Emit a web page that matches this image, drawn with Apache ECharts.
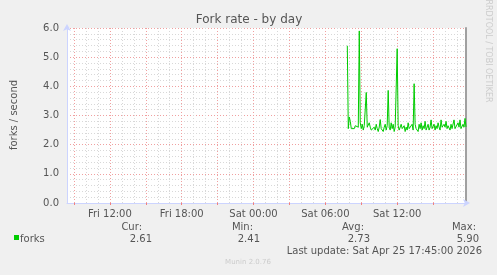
<!DOCTYPE html>
<html>
<head>
<meta charset="utf-8">
<script src="https://cdn.jsdelivr.net/npm/echarts@6/dist/echarts.min.js"></script>
<style>
html,body{margin:0;padding:0;background:#F0F0F0;}
#c{width:497px;height:275px;}
</style>
</head>
<body>
<div id="c"></div>
<script>
// ---- data ----
var titleText = 'Fork rate - by day';
var yAxisName = 'forks / second';
var seriesName = 'forks';
var startHour = 8, startMinute = 25;   // Fri 08:25 (left edge)
var stepMinutes = 5;
var slotCount = 401;                   // Fri 08:25 .. Sat 17:45
var firstDataSlot = 281;               // Sat 07:50
var forkValues = [
  5.39,2.55,2.95,2.80,2.55,2.50,2.60,2.55,2.65,2.70,2.65,2.60,5.90,2.75,2.55,2.70,2.50,2.65,2.60,3.79,
  2.60,2.55,2.75,2.60,2.50,2.45,2.55,2.60,2.50,2.70,2.55,2.45,2.60,2.86,2.55,2.50,2.45,2.60,2.70,2.50,
  2.65,3.86,2.60,2.50,2.75,2.55,2.70,2.45,2.60,2.55,5.29,2.65,2.50,2.60,2.70,2.55,2.50,2.65,2.45,2.60,
  2.50,2.75,2.55,2.50,2.60,2.70,2.50,4.09,2.70,2.55,2.60,2.45,2.70,2.55,2.75,2.50,2.65,2.55,2.80,2.50,
  2.60,2.70,2.50,2.60,2.85,2.55,2.60,2.70,2.50,2.65,2.55,2.75,2.60,2.50,2.85,2.60,2.55,2.70,2.60,2.80,
  2.55,2.65,2.60,2.50,2.70,2.55,2.60,2.85,2.55,2.60,2.50,2.75,2.60,2.85,2.55,2.60,2.70,2.60,2.90,2.61
];
var statHeaders = ['Cur:', 'Min:', 'Avg:', 'Max:'];
var statValues = ['2.61', '2.41', '2.73', '5.90'];
var lastUpdate = 'Last update: Sat Apr 25 17:45:00 2026';
var footer = 'Munin 2.0.76';
var sideText = 'RRDTOOL / TOBI OETIKER';

// ---- build ----
var days = ['Fri', 'Sat'];
var categories = [];
var hours = [], minutes = [];
for (var i = 0; i < slotCount; i++) {
  var t = startHour * 60 + startMinute + i * stepMinutes;
  var d = Math.floor(t / 1440), m = t % 1440;
  var hh = Math.floor(m / 60), mm = m % 60;
  hours.push(hh); minutes.push(mm);
  categories.push(days[d] + ' ' + (hh < 10 ? '0' : '') + hh + ':' + (mm < 10 ? '0' : '') + mm);
}
var seriesData = [];
for (var j = 0; j < slotCount; j++) {
  var k = j - firstDataSlot;
  seriesData.push(k >= 0 && k < forkValues.length ? forkValues[k] : null);
}
function isHour(idx) { return minutes[idx] === 0; }
function isMajor(idx) { return minutes[idx] === 0 && hours[idx] % 3 === 0; }
function isLabel(idx) { return minutes[idx] === 0 && hours[idx] % 6 === 0; }

var FONT = 'DejaVu Sans';
var TXT = '#555555';
var chart = echarts.init(document.getElementById('c'), null, {renderer: 'canvas'});

var gridLeft = 67, gridRight = 31, gridTop = 28, gridBottom = 72;
var statRight = [142, 253, 364, 476];
var valRight = [152, 260, 370, 479];
var graphics = [
  {type: 'rect', shape: {x: gridLeft, y: gridTop, width: 497 - gridLeft - gridRight, height: 275 - gridTop - gridBottom}, style: {fill: '#FFFFFF'}, z: -10, silent: true},
  {type: 'text', x: 249, y: 20, style: {text: titleText, font: '12px "' + FONT + '"', fill: TXT, textAlign: 'center', textVerticalAlign: 'middle'}},
  {type: 'text', x: 14, y: 115, rotation: Math.PI / 2, style: {text: yAxisName, font: '10px "' + FONT + '"', fill: TXT, textAlign: 'center', textVerticalAlign: 'middle'}},
  {type: 'text', x: 488, y: 51, rotation: -Math.PI / 2, style: {text: sideText, font: '8px "' + FONT + '"', fill: '#CCCCCC', textAlign: 'center', textVerticalAlign: 'middle'}},
  {type: 'rect', shape: {x: 14, y: 235, width: 5, height: 5}, style: {fill: '#00CC00'}},
  {type: 'text', x: 20, y: 239, style: {text: seriesName, font: '10px "' + FONT + '"', fill: TXT, textAlign: 'left', textVerticalAlign: 'middle'}},
  {type: 'text', x: 482, y: 251, style: {text: lastUpdate, font: '10px "' + FONT + '"', fill: TXT, textAlign: 'right', textVerticalAlign: 'middle'}},
  {type: 'text', x: 248, y: 262, style: {text: footer, font: '7px "' + FONT + '"', fill: '#CCCCCC', textAlign: 'center', textVerticalAlign: 'middle'}}
];
for (var s = 0; s < statHeaders.length; s++) {
  graphics.push({type: 'text', x: statRight[s], y: 227, style: {text: statHeaders[s], font: '10px "' + FONT + '"', fill: TXT, textAlign: 'right', textVerticalAlign: 'middle'}});
  graphics.push({type: 'text', x: valRight[s], y: 239, style: {text: statValues[s], font: '10px "' + FONT + '"', fill: TXT, textAlign: 'right', textVerticalAlign: 'middle'}});
}

var option = {
  animation: false,
  backgroundColor: '#F0F0F0',
  grid: {left: gridLeft, right: gridRight, top: gridTop, bottom: gridBottom, containLabel: false},
  xAxis: [
    {
      type: 'category', data: categories, boundaryGap: false, position: 'bottom',
      axisLine: {show: true, lineStyle: {color: '#CCD4FF', width: 1}, symbol: ['none', 'arrow'], symbolSize: [6, 7], symbolOffset: [0, 4]},
      axisTick: {show: false},
      axisLabel: {show: true, interval: function (idx) { return isLabel(idx); }, margin: 6, color: TXT, fontFamily: FONT, fontSize: 10},
      splitLine: {show: true, interval: function (idx) { return isHour(idx) && !isMajor(idx); }, lineStyle: {color: '#D8D8D8', type: [1, 2], width: 1}}
    },
    {
      type: 'category', data: categories, boundaryGap: false, position: 'bottom',
      axisLine: {show: false},
      axisTick: {show: true, inside: false, length: 2, interval: function (idx) { return isMajor(idx); }, lineStyle: {color: '#F08080'}},
      axisLabel: {show: false},
      splitLine: {show: true, interval: function (idx) { return isMajor(idx); }, lineStyle: {color: '#F0A0A0', type: [1, 2], width: 1}}
    }
  ],
  yAxis: [
    {
      type: 'value', min: 0, max: 6, interval: 1,
      axisLine: {show: true, lineStyle: {color: '#CCD4FF', width: 1}, symbol: ['none', 'arrow'], symbolSize: [6, 7], symbolOffset: [0, 4]},
      axisTick: {show: false},
      axisLabel: {margin: 8, color: TXT, fontFamily: FONT, fontSize: 10, formatter: function (v) { return v.toFixed(1); }},
      splitLine: {show: true, lineStyle: {color: '#F0A0A0', type: [1, 2], width: 1}},
      minorTick: {show: false, splitNumber: 5},
      minorSplitLine: {show: true, lineStyle: {color: '#D8D8D8', type: [1, 2], width: 1}}
    },
    {
      type: 'value', min: 0, max: 6, interval: 1, position: 'right',
      axisLine: {show: true, lineStyle: {color: '#A0A0A0', width: 2}},
      axisTick: {show: false}, axisLabel: {show: false}, splitLine: {show: false}
    }
  ],
  series: [{
    name: seriesName, type: 'line', xAxisIndex: 0, yAxisIndex: 0,
    data: seriesData, showSymbol: false, symbol: 'none', connectNulls: false,
    lineStyle: {color: '#00CC00', width: 1}, itemStyle: {color: '#00CC00'}, z: 5
  }],
  graphic: graphics
};
chart.setOption(option);
</script>
</body>
</html>
